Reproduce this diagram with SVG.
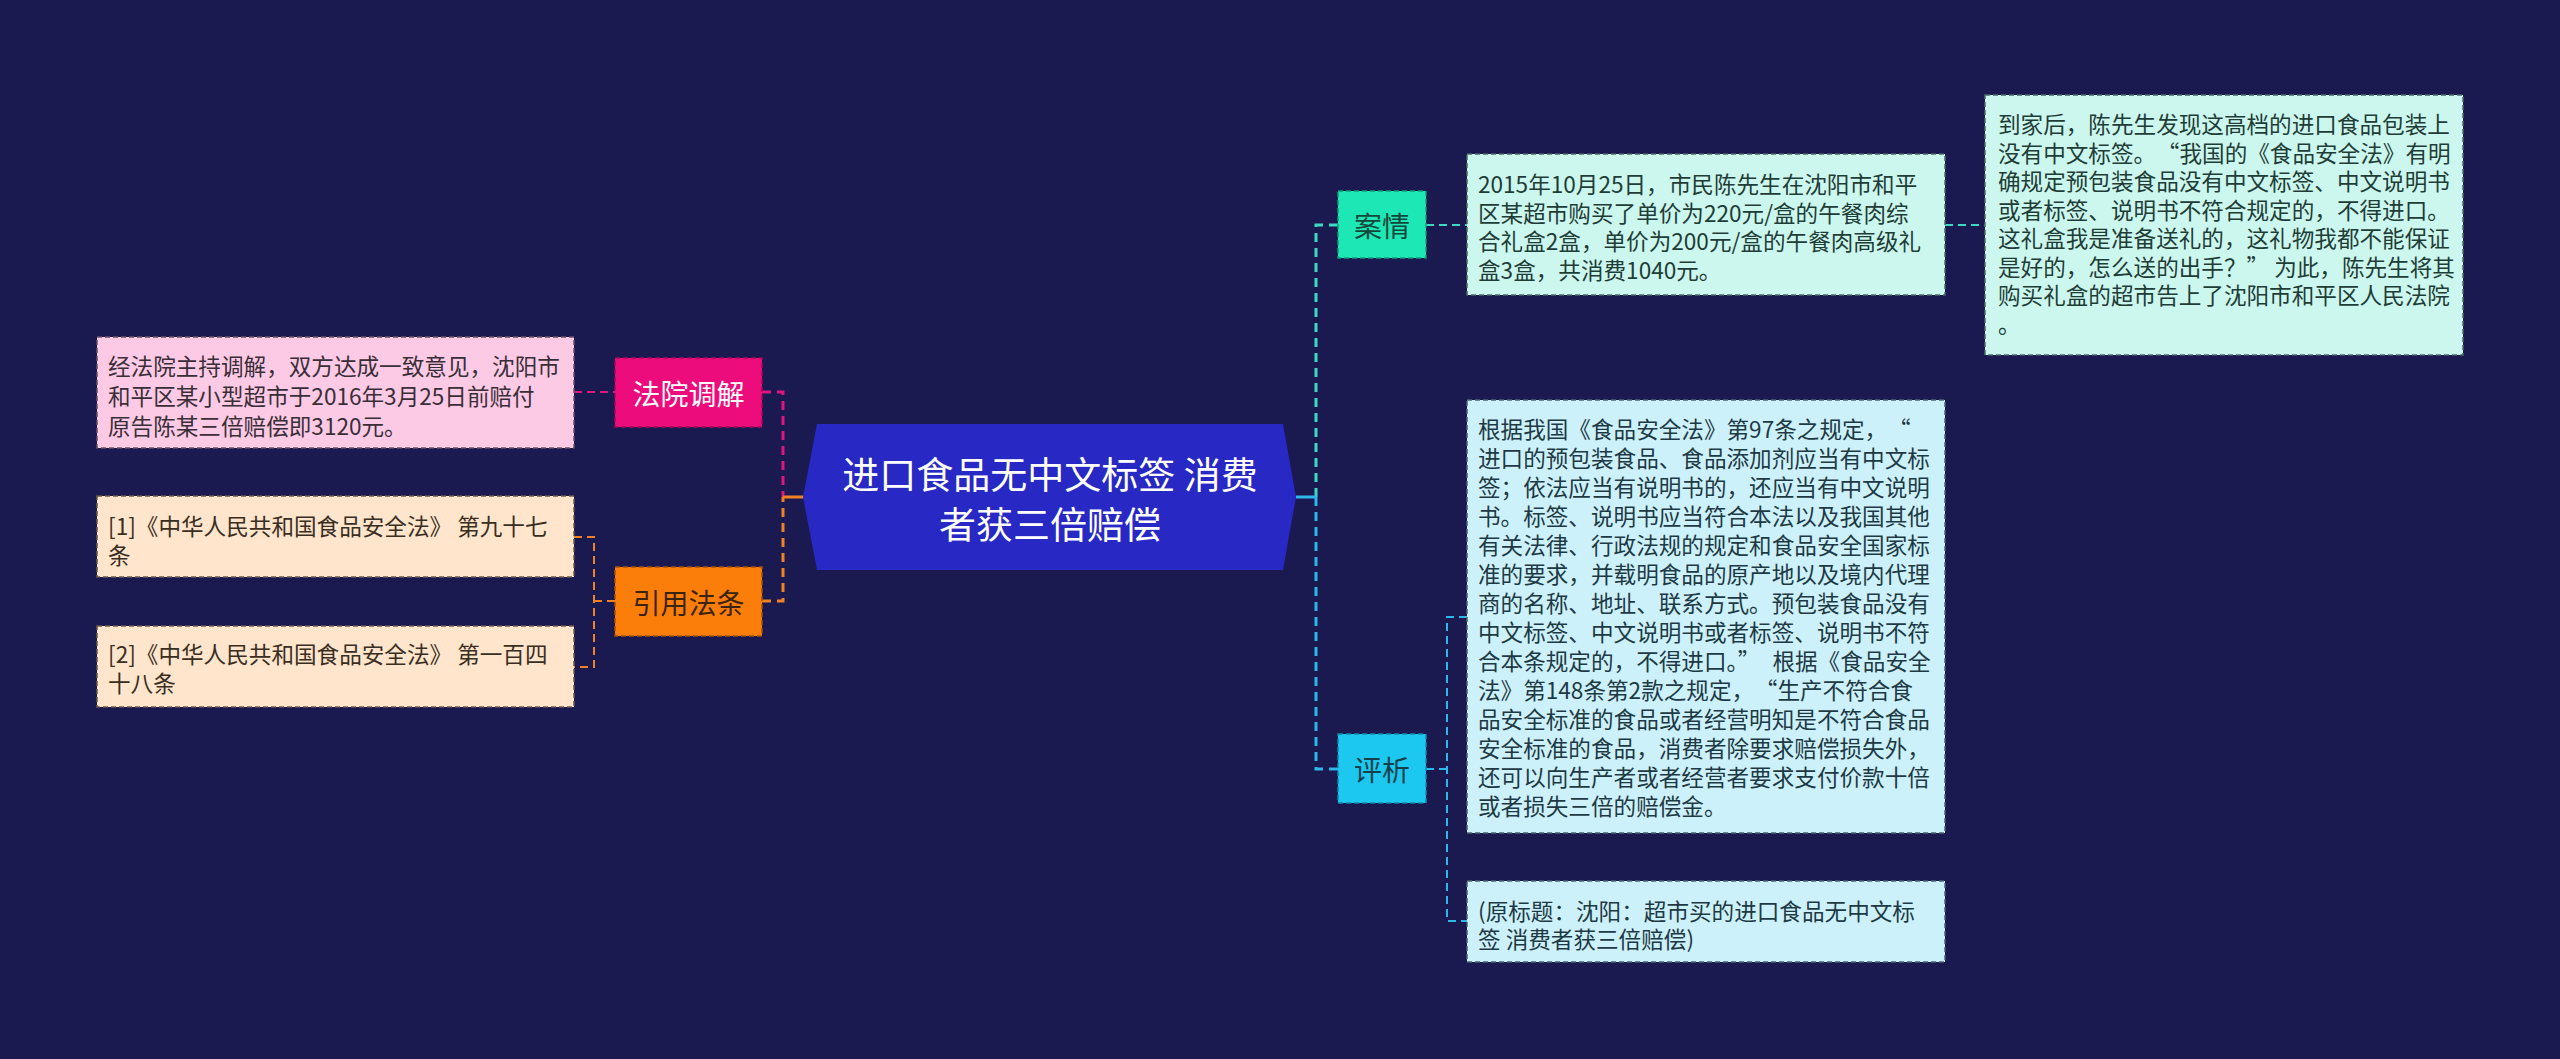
<svg xmlns="http://www.w3.org/2000/svg" width="2560" height="1059" viewBox="0 0 2560 1059">
<style>
text{font-family:"Noto Sans CJK SC","Noto Sans",sans-serif;dominant-baseline:central}
.body{font-size:22.6px}
.lbl{font-size:28px;text-anchor:middle}
.box{stroke-width:1.5;stroke-dasharray:5 3}
.ln{fill:none;stroke-width:2;stroke-dasharray:8 5}
.tr{fill:none;stroke-width:3;stroke-dasharray:9 6}
</style>
<rect width="2560" height="1059" fill="#1a1950"/>
<g id="connectors">
  <path class="ln" stroke="#e0157e" d="M574,392H615"/>
  <path class="tr" stroke="#e0157e" d="M762,392H783V497"/>
  <path class="ln" stroke="#f08224" d="M574,537H594V667H574M594,601H615"/>
  <path class="tr" stroke="#f08224" d="M762,601H783V497"/>
  <path fill="none" stroke="#f08224" stroke-width="3" d="M783,497H804"/>
  <path class="tr" stroke="#3ed9c2" d="M1316,497V225H1338"/>
  <path class="ln" stroke="#3ed9c2" d="M1426,225H1467M1945,225H1985"/>
  <path fill="none" stroke="#2cb8e8" stroke-width="3" d="M1296,497H1316"/>
  <path class="tr" stroke="#2cb8e8" d="M1316,497V769H1338"/>
  <path class="ln" stroke="#2cb8e8" d="M1426,769H1447M1467,617H1447V921H1467"/>
</g>
<g id="center">
  <polygon points="803,497 817,424 1283,424 1296,497 1283,570 817,570" fill="#2828c4"/>
  <text x="1050" y="473" font-size="37" fill="#ffffff" text-anchor="middle">进口食品无中文标签 消费</text>
  <text x="1050" y="523" font-size="37" fill="#ffffff" text-anchor="middle">者获三倍赔偿</text>
</g>
<g id="fayuan">
  <rect class="box" x="615" y="358" width="147" height="69" fill="#ec0c7c" stroke="#a8075a"/>
  <text class="lbl" x="688.5" y="393" fill="#ffffff">法院调解</text>
</g>
<g id="fayuan-text">
  <rect class="box" x="97" y="337" width="477" height="111" fill="#fdcae6" stroke="#6a5060"/>
  <text class="body" x="108" fill="#3a2e36"><tspan x="108" y="365">经法院主持调解，双方达成一致意见，沈阳市</tspan><tspan x="108" y="395">和平区某小型超市于2016年3月25日前赔付</tspan><tspan x="108" y="425">原告陈某三倍赔偿即3120元。</tspan></text>
</g>
<g id="yinyong">
  <rect class="box" x="615" y="567" width="147" height="69" fill="#fb7d0a" stroke="#a85200"/>
  <text class="lbl" x="688.5" y="601.5" fill="#3a2410">引用法条</text>
</g>
<g id="law1">
  <rect class="box" x="97" y="496" width="477" height="81" fill="#fee5cc" stroke="#6a5a48"/>
  <text class="body" fill="#3a2e22" xml:space="preserve"><tspan x="108" y="525">[1]《中华人民共和国食品安全法》 第九十七</tspan><tspan x="108" y="554">条</tspan></text>
</g>
<g id="law2">
  <rect class="box" x="97" y="626" width="477" height="81" fill="#fee5cc" stroke="#6a5a48"/>
  <text class="body" fill="#3a2e22" xml:space="preserve"><tspan x="108" y="653">[2]《中华人民共和国食品安全法》 第一百四</tspan><tspan x="108" y="682">十八条</tspan></text>
</g>
<g id="anqing">
  <rect class="box" x="1338" y="191" width="88" height="67" fill="#1de8b5" stroke="#129a78"/>
  <text class="lbl" x="1382" y="225" fill="#15463c">案情</text>
</g>
<g id="anqing-text1">
  <rect class="box" x="1467" y="154" width="478" height="141" fill="#ccf7ee" stroke="#4a6a64"/>
  <text class="body" fill="#1f3d37"><tspan x="1478" y="183">2015年10月25日，市民陈先生在沈阳市和平</tspan><tspan x="1478" y="211.5">区某超市购买了单价为220元/盒的午餐肉综</tspan><tspan x="1478" y="240">合礼盒2盒，单价为200元/盒的午餐肉高级礼</tspan><tspan x="1478" y="268.5">盒3盒，共消费1040元。</tspan></text>
</g>
<g id="anqing-text2">
  <rect class="box" x="1985" y="95" width="478" height="260" fill="#ccf7ee" stroke="#4a6a64"/>
  <text class="body" fill="#1f3d37"><tspan x="1998" y="123">到家后，陈先生发现这高档的进口食品包装上</tspan><tspan x="1998" y="151.5">没有中文标签。<tspan dx="12">“</tspan>我国的《食品安全法》有明</tspan><tspan x="1998" y="180">确规定预包装食品没有中文标签、中文说明书</tspan><tspan x="1998" y="208.5">或者标签、说明书不符合规定的，不得进口。</tspan><tspan x="1998" y="237">这礼盒我是准备送礼的，这礼物我都不能保证</tspan><tspan x="1998" y="265.5">是好的，怎么送的出手？”<tspan dx="5">为此，陈先生将其</tspan></tspan><tspan x="1998" y="294">购买礼盒的超市告上了沈阳市和平区人民法院</tspan><tspan x="1998" y="322.5">。</tspan></text>
</g>
<g id="pingxi">
  <rect class="box" x="1338" y="734" width="88" height="69" fill="#1cc8ef" stroke="#0e8aa8"/>
  <text class="lbl" x="1382" y="769" fill="#15404a">评析</text>
</g>
<g id="pingxi-text1">
  <rect class="box" x="1467" y="400" width="478" height="433" fill="#cdf1fb" stroke="#4a6470"/>
  <text class="body" fill="#1d3a44"><tspan x="1478" y="428">根据我国《食品安全法》第97条之规定，<tspan dx="12">“</tspan></tspan><tspan x="1478" y="457">进口的预包装食品、食品添加剂应当有中文标</tspan><tspan x="1478" y="486">签；依法应当有说明书的，还应当有中文说明</tspan><tspan x="1478" y="515">书。标签、说明书应当符合本法以及我国其他</tspan><tspan x="1478" y="544">有关法律、行政法规的规定和食品安全国家标</tspan><tspan x="1478" y="573">准的要求，并载明食品的原产地以及境内代理</tspan><tspan x="1478" y="602">商的名称、地址、联系方式。预包装食品没有</tspan><tspan x="1478" y="631">中文标签、中文说明书或者标签、说明书不符</tspan><tspan x="1478" y="660">合本条规定的，不得进口。”<tspan dx="12">根据《食品安全</tspan></tspan><tspan x="1478" y="689">法》第148条第2款之规定，<tspan dx="12">“</tspan>生产不符合食</tspan><tspan x="1478" y="718">品安全标准的食品或者经营明知是不符合食品</tspan><tspan x="1478" y="747">安全标准的食品，消费者除要求赔偿损失外，</tspan><tspan x="1478" y="776">还可以向生产者或者经营者要求支付价款十倍</tspan><tspan x="1478" y="805">或者损失三倍的赔偿金。</tspan></text>
</g>
<g id="pingxi-text2">
  <rect class="box" x="1467" y="881" width="478" height="81" fill="#cdf1fb" stroke="#4a6470"/>
  <text class="body" fill="#1d3a44" xml:space="preserve"><tspan x="1478" y="910">(原标题：沈阳：超市买的进口食品无中文标</tspan><tspan x="1478" y="938">签 消费者获三倍赔偿)</tspan></text>
</g>
</svg>
